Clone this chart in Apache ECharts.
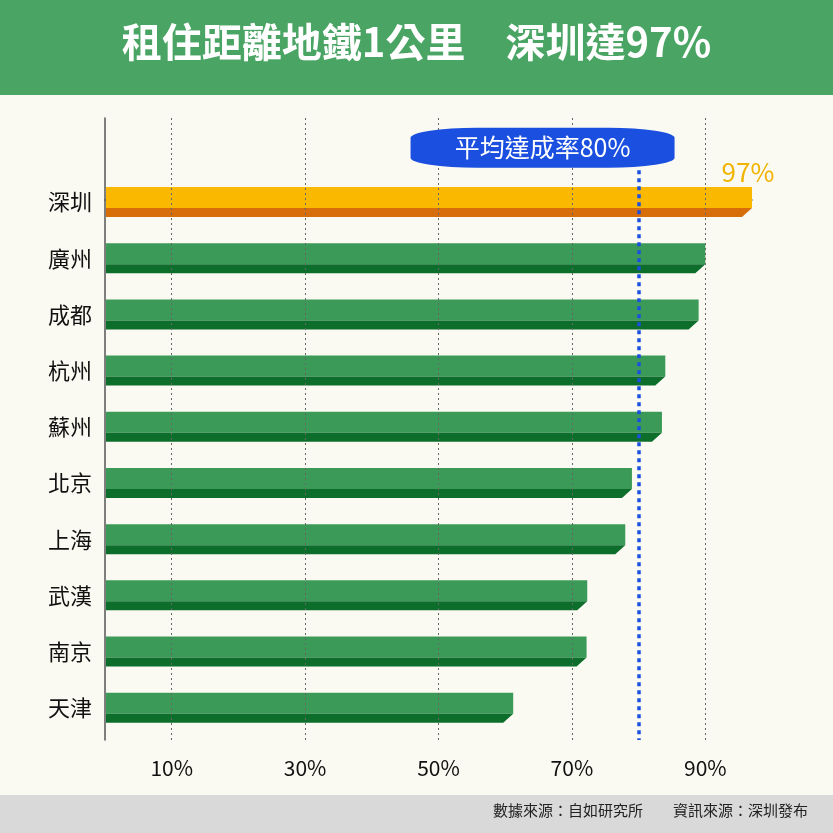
<!DOCTYPE html>
<html><head><meta charset="utf-8">
<script src="https://cdn.jsdelivr.net/npm/echarts@6/dist/echarts.min.js"></script>
<style>html,body{margin:0;padding:0;background:#fbfaf2}#c{width:833px;height:833px}</style>
</head><body><div id="c"></div>
<script>
const cities = ['深圳','廣州','成都','杭州','蘇州','北京','上海','武漢','南京','天津'];
const values = [97, 90, 89, 84, 83.5, 79, 78, 72.3, 72.2, 61.2];
const gridTicks = [10, 30, 50, 70, 90];
const average = 80;

const chart = echarts.init(document.getElementById('c'));
const F = '"Noto Sans CJK TC","Noto Sans CJK SC",sans-serif';
chart.setOption({
  backgroundColor: '#fbfaf2',
  animation: false,
  grid: {left: 105, right: 81, top: 118, bottom: 93},
  xAxis: {type: 'value', min: 0, max: 97, interval: 10,
    axisLine: {show: true, lineStyle: {color: '#555', width: 1.5}},
    axisTick: {show: false}, splitLine: {show: false},
    axisLabel: {formatter: v => (v % 20 === 10 ? v + '%' : ''), color: '#111', fontSize: 21, fontFamily: F, margin: 18}},
  yAxis: {type: 'value', inverse: true, min: -1.46, max: 9.61,
    axisLine: {show: true, lineStyle: {color: '#555', width: 1.5}},
    axisTick: {show: false}, axisLabel: {show: false}, splitLine: {show: false}},
  graphic: [
    {type: 'rect', left: 0, top: 0, shape: {width: 833, height: 95}, style: {fill: '#4aa564'}, z: -1},
    {type: 'text', left: 'center', top: 22, style: {text: '租住距離地鐵1公里　深圳達97%', fill: '#fff', fontSize: 40, fontWeight: 'bold', fontFamily: F}},
    {type: 'rect', left: 0, top: 795, shape: {width: 833, height: 38}, style: {fill: '#d9d9d9'}},
    {type: 'text', right: 25, top: 803, style: {text: '數據來源：自如研究所　　資訊來源：深圳發布', fill: '#222', fontSize: 15, fontFamily: F}}
  ],
  series: [
    {type: 'custom', data: values.map((v, i) => [v, i, cities[i]]),
      renderItem: function (params, api) {
        const v = api.value(0), i = api.value(1);
        const p0 = api.coord([0, i]), p1 = api.coord([v, i]);
        const c = p0[1] + 2;
        const first = i === 0;
        const light = first ? '#fbb800' : '#3c9a58';
        const dark = first ? '#d86e0a' : '#0d6e2c';
        const x0 = p0[0] + 1, x1 = p1[0];
        const children = [
          {type: 'rect', shape: {x: x0, y: c - 15, width: x1 - x0, height: 21}, style: {fill: light}},
          {type: 'polygon', shape: {points: [[x0, c + 6], [x1, c + 6], [x1 - 10, c + 15], [x0, c + 15]]}, style: {fill: dark}},
          {type: 'text', style: {text: api.value(2), x: 70, y: c, align: 'center', verticalAlign: 'middle', fontSize: 22, fontFamily: F, fill: '#111'}}
        ];
        if (first) children.push({type: 'text', style: {text: v + '%', x: x1 - 4, y: c - 30, align: 'center', verticalAlign: 'middle', fontSize: 26, fontFamily: F, fill: '#f0b400'}});
        return {type: 'group', children};
      },
      markLine: {silent: true, symbol: 'none', label: {show: false},
        lineStyle: {color: '#666', type: [2, 3], width: 1},
        data: gridTicks.map(t => ({xAxis: t}))}
    },
    {type: 'line', data: [], markLine: {silent: true, symbol: 'none',
        lineStyle: {color: '#1a4fe0', type: [4, 4], width: 3.5},
        label: {show: false},
        data: [[{coord: [average, -0.53]}, {coord: [average, 9.61]}]]},
      markPoint: {symbol: 'roundRect', symbolSize: [264, 40], silent: true,
        itemStyle: {color: '#1a4fe0'},
        label: {show: true, formatter: '平均達成率' + average + '%', color: '#fff', fontSize: 25, fontFamily: F},
        data: [{coord: [65.6, -0.93]}]}}
  ]
});
</script></body></html>
